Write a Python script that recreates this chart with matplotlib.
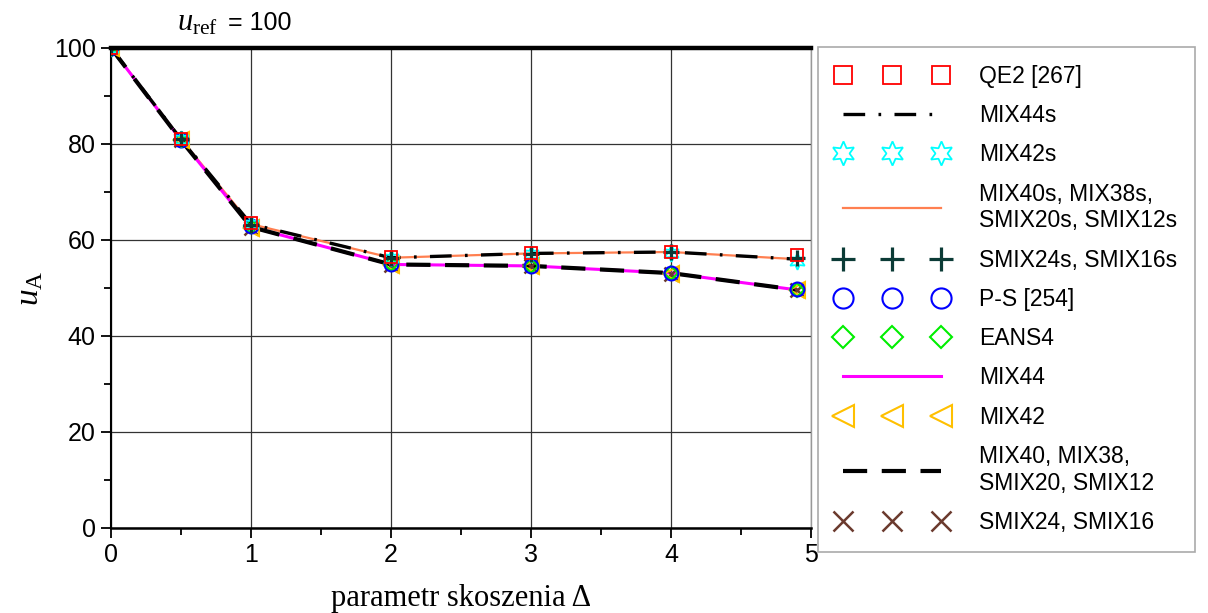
import matplotlib
matplotlib.use('Agg')
import matplotlib.pyplot as plt
from matplotlib.ticker import MultipleLocator

plt.rcParams['font.family'] = ['Liberation Sans', 'DejaVu Sans']
plt.rcParams['mathtext.fontset'] = 'custom'
plt.rcParams['mathtext.rm'] = 'Liberation Serif'
plt.rcParams['mathtext.it'] = 'Liberation Serif:italic'
plt.rcParams['mathtext.sf'] = 'Liberation Sans'

# parametr skoszenia
delta = [0, 0.5, 1, 2, 3, 4, 4.9]

# wyniki (u_A)
qe2 = [100, 81.0, 63.5, 56.5, 57.3, 57.6, 56.9]
mix44s = [100, 81.0, 63.3, 56.3, 57.2, 57.5, 56.0]
mix42s = [100, 81.0, 63.3, 56.2, 57.0, 57.3, 55.6]
mix40s = [100, 81.0, 63.3, 56.3, 57.2, 57.5, 56.0]
smix24s = [100, 81.0, 63.2, 56.2, 57.1, 57.4, 56.2]
ps = [100, 80.8, 62.9, 54.9, 54.6, 53.1, 49.7]
eans4 = [100, 80.8, 62.9, 54.9, 54.6, 53.1, 49.6]
mix44 = [100, 80.8, 62.7, 54.9, 54.6, 53.1, 49.6]
mix42 = [100, 80.8, 62.6, 54.8, 54.5, 53.0, 49.5]
mix40 = [100, 80.8, 62.7, 54.9, 54.6, 53.1, 49.6]
smix24 = [100, 80.8, 62.6, 54.8, 54.5, 53.0, 49.5]

u_ref = 100

fig = plt.figure(figsize=(12.08, 6.13), dpi=100)
ax = fig.add_axes([0.0919, 0.1387, 0.5795, 0.783])

h = {}
# linie
h['MIX40s, MIX38s,\nSMIX20s, SMIX12s'], = ax.plot(delta, mix40s, color='#ff7f50', lw=1.6, zorder=3)
h['MIX44'], = ax.plot(delta, mix44, color='#ff00ff', lw=2.2, zorder=3)
h['MIX44s'], = ax.plot(delta, mix44s, color='k', lw=2.4, dashes=(6.5, 4, 0.8, 4), zorder=4)
h['MIX40, MIX38,\nSMIX20, SMIX12'], = ax.plot(delta, mix40, color='k', lw=3.0, dashes=(5.8, 3.5), zorder=4)
# markery
h['SMIX24, SMIX16'], = ax.plot(delta, smix24, 'x', color='#6b3a2e', ms=10, mew=1.8, ls='none', zorder=5)
h['MIX42'], = ax.plot(delta, mix42, '<', color='#ffc000', mfc='none', ms=11, mew=1.5, ls='none', zorder=5)
h['EANS4'], = ax.plot(delta, eans4, 'D', color='#00ee00', mfc='none', ms=7.5, mew=1.5, ls='none', zorder=6)
h['P-S [254]'], = ax.plot(delta, ps, 'o', color='#0000ff', mfc='none', ms=10, mew=1.5, ls='none', zorder=6)
h['MIX42s'], = ax.plot(delta, mix42s, marker=(6, 1, 0), color='#00ffff', mfc='none', ms=12, mew=1.3, ls='none', zorder=6)
h['SMIX24s, SMIX16s'], = ax.plot(delta, smix24s, '+', color='#0b3b36', ms=12, mew=2.3, ls='none', zorder=7)
h['QE2 [267]'], = ax.plot(delta, qe2, 's', color='#ff0000', mfc='none', ms=9, mew=1.3, ls='none', zorder=7)

ax.axhline(u_ref, color='k', lw=3.2, zorder=8, clip_on=False)
ax.text(0.47, 103.7, r'$u_{\mathrm{ref}}$', fontsize=22, va='baseline', ha='left')
ax.text(0.835, 103.7, '= 100', fontsize=18, va='baseline', ha='left')

ax.set_xlim(0, 5)
ax.set_ylim(0, 100)
ax.xaxis.set_major_locator(MultipleLocator(1))
ax.xaxis.set_minor_locator(MultipleLocator(0.5))
ax.yaxis.set_major_locator(MultipleLocator(20))
ax.yaxis.set_minor_locator(MultipleLocator(10))
ax.tick_params(which='major', direction='out', length=7, width=1.3, labelsize=18, pad=4)
ax.tick_params(which='minor', direction='out', length=5, width=1.3)
ax.grid(True, which='major', color='#333333', lw=0.9)
ax.set_axisbelow(True)
ax.spines['top'].set_visible(False)
ax.spines['right'].set_color('#999999')
ax.spines['right'].set_linewidth(1.0)
ax.spines['left'].set_linewidth(1.5)
ax.spines['bottom'].set_linewidth(1.8)

ax.set_xlabel('parametr skoszenia Δ', fontsize=22, family=['Liberation Serif', 'DejaVu Serif'], labelpad=12)
ax.set_ylabel(r'$u_{\mathrm{A}}$', fontsize=24, labelpad=6)

order = ['QE2 [267]', 'MIX44s', 'MIX42s', 'MIX40s, MIX38s,\nSMIX20s, SMIX12s',
         'SMIX24s, SMIX16s', 'P-S [254]', 'EANS4', 'MIX44', 'MIX42',
         'MIX40, MIX38,\nSMIX20, SMIX12', 'SMIX24, SMIX16']
leg = fig.legend([h[k] for k in order], order, loc='upper left',
                 bbox_to_anchor=(818 / 1208, 1 - 47 / 613), borderaxespad=0,
                 fontsize=16.5, numpoints=3, markerscale=1.45, handlelength=4.9,
                 handletextpad=1.35, borderpad=0.78, labelspacing=0.71,
                 fancybox=False, edgecolor='#aaaaaa', framealpha=1)
leg.get_frame().set_linewidth(1.2)

fig.savefig('out.png', dpi=100)
